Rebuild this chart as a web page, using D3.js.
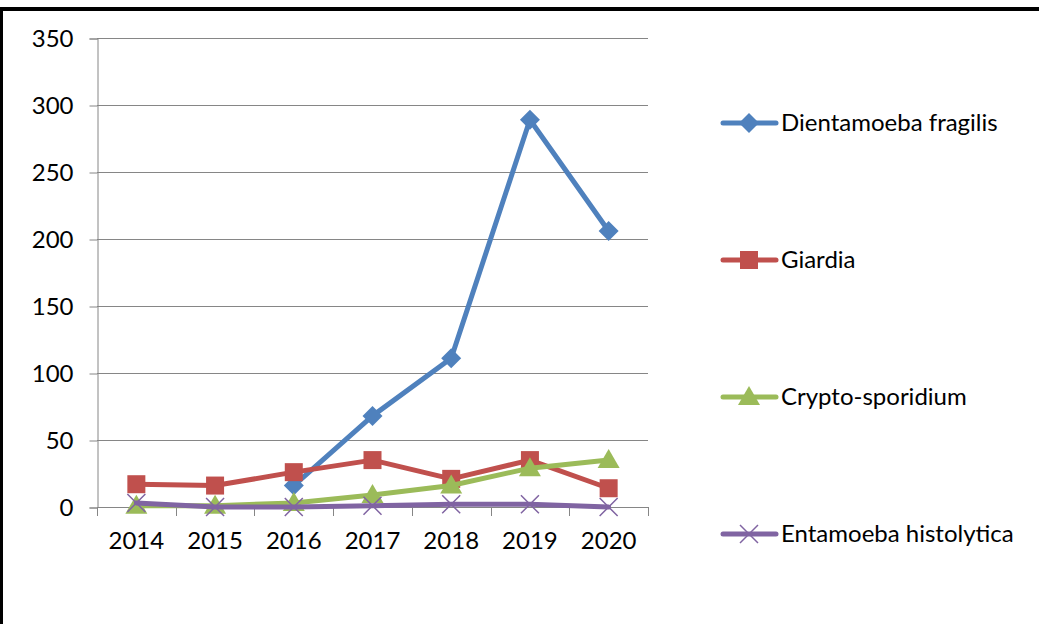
<!DOCTYPE html>
<html>
<head>
<meta charset="utf-8">
<script src="https://cdn.jsdelivr.net/npm/d3@7"></script>
<style>
  body { margin: 0; background: #fff; }
  svg { display: block; font-family: Lato, "Open Sans", sans-serif; }
</style>
</head>
<body>
<svg id="chart" width="1039" height="624"></svg>
<script>
var years = ["2014", "2015", "2016", "2017", "2018", "2019", "2020"];
var yTicks = [0, 50, 100, 150, 200, 250, 300, 350];

var dientamoeba = [null, null, 16, 68, 111, 289, 206];
var giardia = [17, 16, 26, 35, 21, 35, 14];
var cryptosporidium = [1, 1, 3, 9, 16, 29, 35];
var entamoeba = [3, 0, 0, 1, 2, 2, 0];

var seriesNames = ["Dientamoeba fragilis", "Giardia", "Crypto-sporidium", "Entamoeba histolytica"];
var seriesColors = ["#4F81BD", "#C0504D", "#9BBB59", "#8064A2"];
var seriesMarkers = ["diamond", "square", "triangle", "cross"];

var series = [dientamoeba, giardia, cryptosporidium, entamoeba].map((vals, i) => ({
    name: seriesNames[i],
    color: seriesColors[i],
    marker: seriesMarkers[i],
    values: vals.map((v, j) => ({year: years[j], value: v}))
}));

var width = 1039,
    height = 624;

var svg = d3.select("#chart");

// frame: thick top line and left line
svg.append("rect").attr("x", 0).attr("y", 7).attr("width", width).attr("height", 4).attr("fill", "#000");
svg.append("rect").attr("x", 0).attr("y", 7).attr("width", 3).attr("height", height - 7).attr("fill", "#000");

var xScale = d3.scaleBand()
    .domain(years)
    .range([97, 648]);

var yScale = d3.scaleLinear()
    .domain([0, 350])
    .range([507, 38]);

// gridlines
svg.append("g")
    .selectAll("line")
    .data(yTicks.slice(1))
    .enter().append("line")
    .attr("x1", 97)
    .attr("x2", 648)
    .attr("y1", d => yScale(d) + 0.5)
    .attr("y2", d => yScale(d) + 0.5)
    .attr("stroke", "#868686")
    .attr("stroke-width", 1);

var yAxis = d3.axisLeft(yScale).tickValues(yTicks).tickSize(8).tickPadding(16);
var gy = svg.append("g")
    .attr("transform", "translate(97.5,0.5)")
    .call(yAxis);

var xAxis = d3.axisBottom(xScale).tickSize(0).tickPadding(24);
var gx = svg.append("g")
    .attr("transform", "translate(0,507.5)")
    .call(xAxis);

// x tick marks at category boundaries
svg.append("g")
    .selectAll("line")
    .data(d3.range(years.length + 1))
    .enter().append("line")
    .attr("x1", d => Math.round(97 + d * xScale.step()) + 0.5)
    .attr("x2", d => Math.round(97 + d * xScale.step()) + 0.5)
    .attr("y1", 507)
    .attr("y2", 516)
    .attr("stroke", "#868686");

[gx, gy].forEach(g => {
    g.select(".domain").attr("stroke", "#868686").attr("stroke-width", 1);
    g.selectAll(".tick line").attr("stroke", "#868686");
    g.selectAll(".tick text")
        .attr("fill", "#000")
        .style("font-size", "24px")
        .style("font-family", "Lato, sans-serif");
});
gx.select(".domain").attr("d", "M97,0H648");
gy.selectAll(".tick text").attr("dy", "0.35em");

var cx = d => xScale(d.year) + xScale.bandwidth() / 2;

var line = d3.line()
    .defined(d => d.value !== null)
    .x(cx)
    .y(d => yScale(d.value));

function drawMarker(g, type, color) {
    if (type === "diamond") {
        g.append("path").attr("d", "M0,-10L10,0L0,10L-10,0Z").attr("fill", color);
    } else if (type === "square") {
        g.append("rect").attr("x", -9).attr("y", -9).attr("width", 18).attr("height", 18).attr("fill", color);
    } else if (type === "triangle") {
        g.append("path").attr("d", "M0,-11L11,8L-11,8Z").attr("fill", color);
    } else {
        g.append("path").attr("d", "M-9,-9L9,9M-9,9L9,-9")
            .attr("stroke", color).attr("stroke-width", 1.5).attr("fill", "none");
    }
}

series.forEach(s => {
    var g = svg.append("g");
    g.append("path")
        .datum(s.values)
        .attr("d", line)
        .attr("fill", "none")
        .attr("stroke", s.color)
        .attr("stroke-width", 5)
        .attr("stroke-linejoin", "round")
        .attr("stroke-linecap", "round");
    g.selectAll(".pt")
        .data(s.values.filter(d => d.value !== null))
        .enter().append("g")
        .attr("transform", d => "translate(" + cx(d) + "," + yScale(d.value) + ")")
        .each(function() { drawMarker(d3.select(this), s.marker, s.color); });
});

// legend
var legendY = [123, 260, 397, 534];
series.forEach((s, i) => {
    var g = svg.append("g").attr("transform", "translate(0," + legendY[i] + ")");
    g.append("line")
        .attr("x1", 723).attr("x2", 776)
        .attr("stroke", s.color)
        .attr("stroke-width", 5)
        .attr("stroke-linecap", "round");
    var m = g.append("g").attr("transform", "translate(749,0)");
    drawMarker(m, s.marker, s.color);
    g.append("text")
        .attr("x", 781)
        .attr("y", 0)
        .attr("dy", "0.35em")
        .style("font-size", "24px")
        .text(s.name);
});
</script>
</body>
</html>
